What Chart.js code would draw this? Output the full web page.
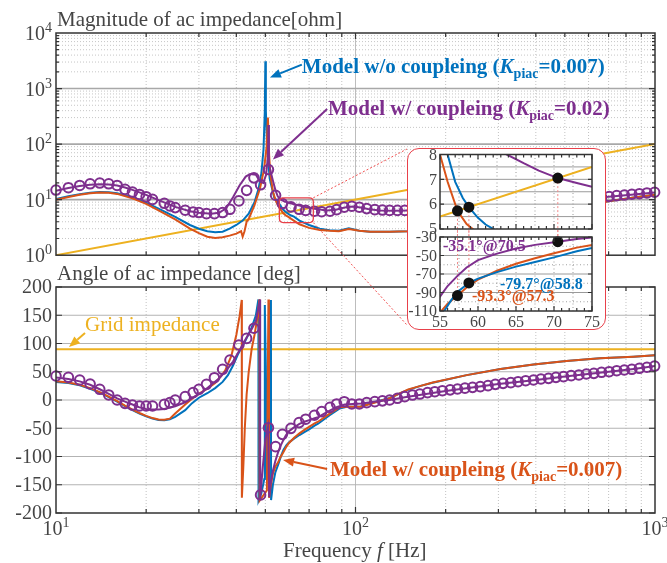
<!DOCTYPE html>
<html>
<head>
<meta charset="utf-8">
<title>ac impedance</title>
<script src="https://cdn.jsdelivr.net/npm/chart.js@4.4.1/dist/chart.umd.min.js"></script>
<style>
  html, body { margin: 0; padding: 0; background: #fff; }
  #wrap { position: relative; width: 667px; height: 563px; overflow: hidden; }
  canvas { position: absolute; }
  #mag { left: 0; top: 0; }
  #ang { left: 0; top: 262px; }
  #box { position: absolute; left: 407px; top: 148px; width: 199px; height: 182px; box-sizing: border-box;
         border: 1.5px solid #e8404a; border-radius: 12px; background: #fff; }
  #zmag { left: 409px; top: 148px; }
  #zang { left: 409px; top: 230px; }
</style>
</head>
<body>
<div id="wrap">
  <canvas id="mag" width="667" height="262"></canvas>
  <canvas id="ang" width="667" height="301"></canvas>
  <div id="box"></div>
  <canvas id="zmag" width="195" height="88"></canvas>
  <canvas id="zang" width="195" height="100"></canvas>
</div>
<script>
const SERIF = "'Liberation Serif', 'Times New Roman', serif";
const INK = "#454545";
const AXIS = "#333333";
const BLUE = "#0072BD", ORANGE = "#D95319", YELLOW = "#EDB120", PURPLE = "#7E2F8E";
const RED = "#e8404a";

// ---- values ----
// grid impedance (straight line on log-log)
const fGrid = [10, 55, 75, 1000];
const magGrid = [1, 5.5, 7.5, 100];
const angGrid = [90, 90, 90, 90];

// model w/o coupling, Kpiac = 0.007 (blue)
const fBlueMag = [10,11,12,13,14,15,16,18,20,22,25,28,30,32,34,36,38,40,42,44,46,47.5,48.5,49.3,49.8,50.0,50.2,50.7,51.7,53.5,55,56,57,58,58.8,60,61,62.3,65,70,76,82,88,95,103,112,130,150,200,300,400,500,600,700,850,1000];
const magBlue = [10.3,11.5,12.5,13.3,13.7,13.6,13.0,11.0,8.8,6.9,4.9,3.5,3.0,2.7,2.6,2.65,3.0,3.5,4.2,5.6,9,16,30,80,400,3100,400,83,24,11,9.2,8.0,6.9,6.25,5.88,5.45,5.18,4.95,4.2,3.5,3.0,2.8,2.75,3.05,2.75,2.65,2.65,2.7,3.1,4.3,5.7,7.0,8.2,9.4,10.9,12.3];
const fBlueAng = [10,11,12,13,14,15,16,17,18,19,20,21,22,23,24,25,27,28.4,30,32,34,36,37.5,39,40.6,42.8,45,46.5,47.4,47.45,48.5,49.6,49.8,50.2,50.6,51.9,52.2,52.25,53,54,55.4,56.5,57.5,58.8,60,62.5,65,67.5,70,73,75,82,88.6,93.5,104,114,130,141,150,165,181,235,305,393,506,655,847,1000];
const angBlue = [32,30,26,20,13,5,-3,-11,-18,-24,-29,-33,-35.5,-36,-34,-30,-18,-6,4,12,21,32,44,61,82,104,128,150,178,-178,-165,-140,168,60,-140,170,177,-177,-150,-128,-112,-98,-88,-79.7,-75,-68,-62,-57,-52,-45.5,-42,-27,-15,-12,-11.5,-5,3.5,12,18,25,30.5,44,55,63,69,73.7,76.7,79];

// model w/ coupling, Kpiac = 0.007 (orange)
const fOrangeMag = [10,11,12,13,14,15,16,18,20,22,25,28,30,32,34,36,38,40,41.5,42,42.6,43.3,44,46,48,49.5,50.5,51.0,51.5,52,53,54,55,56,57.3,58.5,59.5,61,65,70,76,82,88,95,103,112,130,150,200,300,400,500,600,700,850,1000];
const magOrange = [10.0,11.2,12.2,13.0,13.4,13.3,12.7,10.6,8.4,6.4,4.4,3.0,2.5,2.15,2.05,2.1,2.25,2.45,2.7,2.15,2.7,4.0,4.5,8,16,35,90,300,60,28,14,10,8.0,6.9,5.73,5.2,4.95,4.5,3.6,3.1,2.85,2.75,2.7,2.95,2.75,2.65,2.65,2.7,3.1,4.3,5.7,7.0,8.2,9.4,10.9,12.3];
const fOrangeAng = [10,11,12,13,14,15,16,17,18,19,20,21,22,23,24,25,27,28.4,30,32,34,35.5,36.7,38.5,40,41,41.7,41.75,42.2,42.7,43.3,44,45,46,47,47.8,47.85,50.6,51.2,51.4,51.45,52,53,54,55.2,56,57.3,58.8,60,62.5,65,67.5,70,73,75,82,88.6,93.5,104,114,130,141,150,165,181,235,305,393,506,655,847,1000];
const angOrange = [33,31,27,21,14,6,-2,-10,-17,-23,-28,-32,-34.5,-35,-33,-24,-8,2,11,20,30,42,52,78,115,148,177,-173,-120,-50,10,50,90,115,145,178,-178,-160,176,178,-173,-155,-130,-118,-110,-102,-93.3,-82.5,-76,-66.5,-59,-53,-47.5,-41.5,-38.5,-24,-13,-11.8,-11.8,-5.9,3,12,18.9,25,31,44,55,63,69,73.7,76.7,79];

// model w/ coupling, Kpiac = 0.02 (purple line)
const fPurpleMag = [10,11,12,13,14,15,16,17,18,19,20,22,25,28,30,33,35,37,39,41,43,44.5,46.5,48,49.2,50.3,51.0,51.2,51.4,52,53,54,55,56,58,60,62,63.8,66,68,70.5,73,75,80,86,92,98,104,110,120,135,150,250,400,550,700,850,1000];
const magPurple = [14.5,16.2,17.6,18.5,19,18.8,18,16.5,15,13.5,12.2,9.8,7.4,6.2,5.8,5.6,5.8,7,11,18,26,29,28,21,20,28,60,220,45,33,22,15,11.5,10.2,9.2,8.8,8.3,8.0,7.65,7.35,7.05,6.85,6.7,6.4,6.6,7.2,7.5,7.2,6.8,6.4,6.3,6.4,7.2,8.6,10.2,11.3,12.4,13.5];
const fPurpleAng = [10,11,12,13,14,15,16,17,18,19,20,21,22,23,25,27,29,31,33,35,37,39,41,43,45,46.5,47.5,48.0,48.05,49,50,51.1,51.5,52,53,54,55,56,57.3,58.5,60,62.5,65,67.5,70.5,73,75,80,86,92,98,105,115,130,146,200,300,400,500,700,850,1000];
const angPurple = [40,37,33,27,19,11,3,-3,-8,-13,-16,-17,-17,-16,-11,-4,6,15,27,38,52,68,88,108,125,140,165,178,-175,-120,-70,-47,-172,-150,-125,-108,-94.4,-83,-72,-63,-55,-48,-42.4,-38.5,-35.1,-32.2,-30.5,-22,-13,-8,-7,-6,-3,0,5,16,28.5,35.5,41.5,50,55,60];

// purple circles
const fMeas = [10,11,12,13,14,15,16,17,18,19,20,21,23,24,25,27,28.7,30,31.8,33.8,36,38.1,40.8,43.3,45.8,48.2,51.2,54.1,57,60.9,64.8,68.2,72.9,77.1,82.2,86.5,91.7,97.2,103,109,116,123,130,138,146,155,164,174,184,195,207,219,232,246,261,277,293,311,330,349,370,393,416,441,467,495,525,557,590,625,663,703,745,790,837,887,940,997];
const magMeas = [14.9,16.4,18.0,19.3,19.9,19.3,18.0,15.3,13.7,12.4,11.3,10.1,8.6,7.7,7.2,6.45,6.0,5.86,5.6,5.6,5.86,6.7,9.5,14.7,24.7,18.5,34.8,12.0,8.5,7.4,6.7,6.4,6.2,6.05,6.2,6.6,7.3,7.6,7.3,6.9,6.6,6.5,6.4,6.4,6.4,6.5,6.6,6.7,6.8,6.9,7.0,7.1,7.2,7.3,7.4,7.5,7.7,7.8,8.0,8.2,8.4,8.6,8.8,9.0,9.3,9.6,9.9,10.2,10.5,10.8,11.1,11.4,11.8,12.1,12.5,12.8,13.2,13.6];
const angMeas = [42.5,40.2,35.4,28.3,18.9,8.9,0,-5.9,-8.9,-10.6,-10.6,-10.6,-7.7,-4.7,0,5.9,13,18.9,27.7,39.5,54.3,70.8,97.4,109,127,-168,-49,-82.6,-60.8,-50.2,-40,-34,-27,-20.6,-13,-7,-3,-7,-7,-4.7,-2.9,-1.5,0,3,5.9,8.8,10.5,13,14.7,16.5,18,19.5,21,22.4,23.6,25.4,27.7,29.5,30.7,32.4,34.2,35.4,37.2,38.3,40.1,41.3,43.1,44.3,46,47.2,49,50.1,51.9,53.1,54.3,56.1,58,60];

// marked crossings in the zoom
const markF = [57.3, 58.8, 70.5];
const markMag = [5.73, 5.88, 7.05];
const markAng = [-93.3, -79.7, -35.1];

// tick values
const magTicks = [1, 10, 100, 1000, 10000];
const magExp = ["0", "1", "2", "3", "4"];
const angTicks = [-200, -150, -100, -50, 0, 50, 100, 150, 200];
const freqTicks = [10, 100, 1000];
const freqExp = ["1", "2", "3"];
const zoomFreqTicks = [55, 60, 65, 70, 75];
const zoomMagTicks = [5, 6, 7, 8];
const zoomAngTicks = [-30, -50, -70, -90, -110];

// ---- helpers ----
const pts = (xs, ys) => xs.map((x, i) => ({ x, y: ys[i] }));
const lineSet = (xs, ys, color, order) => ({
  data: pts(xs, ys), borderColor: color, borderWidth: 2, pointRadius: 0,
  fill: false, tension: 0, order
});
const markerSet = (xs, ys, color, order, r = 4.8) => ({
  data: pts(xs, ys), showLine: false, borderColor: color, pointBorderColor: color,
  pointBackgroundColor: color === PURPLE ? "rgba(0,0,0,0)" : color,
  pointRadius: r, pointBorderWidth: 2, order, clip: 10
});
const decMinors = (decades) => { const out = []; decades.forEach(d => { for (let k = 2; k <= 9; k++) out.push(k * d); }); return out; };
const xMinor = decMinors([10, 100]);
const yMinor = decMinors([1, 10, 100, 1000]);

function richText(ctx, x, y, color, parts) {
  ctx.fillStyle = color; ctx.textAlign = "left"; ctx.textBaseline = "alphabetic";
  for (const [t, font, dy] of parts) { ctx.font = font; ctx.fillText(t, x, y + (dy || 0)); x += ctx.measureText(t).width; }
}
const B21 = `bold 21px ${SERIF}`;
const modelLabel = (pre, k) => [[pre + " (", B21], ["K", `italic bold 21px ${SERIF}`], ["piac", `bold 14px ${SERIF}`, 5], ["=" + k + ")", B21]];

function arrow(ctx, x0, y0, x1, y1, color) {
  const a = Math.atan2(y1 - y0, x1 - x0), h = 11, w = 4.5;
  const bx = x1 - h * Math.cos(a), by = y1 - h * Math.sin(a);
  ctx.strokeStyle = color; ctx.fillStyle = color; ctx.lineWidth = 2; ctx.setLineDash([]);
  ctx.beginPath(); ctx.moveTo(x0, y0); ctx.lineTo(bx, by); ctx.stroke();
  ctx.beginPath(); ctx.moveTo(x1, y1);
  ctx.lineTo(bx + w * Math.sin(a), by - w * Math.cos(a));
  ctx.lineTo(bx - w * Math.sin(a), by + w * Math.cos(a));
  ctx.closePath(); ctx.fill();
}

function pow10(ctx, x, y, exp, align) {
  ctx.font = `20px ${SERIF}`; const w1 = ctx.measureText("10").width;
  ctx.font = `14px ${SERIF}`; const w2 = ctx.measureText(exp).width;
  const x0 = align === "right" ? x - w1 - w2 : x - (w1 + w2) / 2;
  ctx.fillStyle = INK; ctx.textAlign = "left"; ctx.textBaseline = "alphabetic";
  ctx.font = `20px ${SERIF}`; ctx.fillText("10", x0, y);
  ctx.font = `14px ${SERIF}`; ctx.fillText(exp, x0 + w1, y - 8);
}

function dotted(ctx, x0, y0, x1, y1, color) {
  ctx.strokeStyle = color; ctx.lineWidth = 1; ctx.setLineDash([2, 2]);
  ctx.beginPath(); ctx.moveTo(x0, y0); ctx.lineTo(x1, y1); ctx.stroke(); ctx.setLineDash([]);
}

function roundBox(ctx, x, y, w, h, r) {
  ctx.beginPath();
  ctx.moveTo(x + r, y); ctx.lineTo(x + w - r, y); ctx.quadraticCurveTo(x + w, y, x + w, y + r);
  ctx.lineTo(x + w, y + h - r); ctx.quadraticCurveTo(x + w, y + h, x + w - r, y + h);
  ctx.lineTo(x + r, y + h); ctx.quadraticCurveTo(x, y + h, x, y + h - r);
  ctx.lineTo(x, y + r); ctx.quadraticCurveTo(x, y, x + r, y); ctx.closePath();
}

// grid under the data, box + inward ticks + annotations above it
function frame(spec) {
  return {
    id: "frame",
    beforeDatasetsDraw(chart) {
      const { ctx, chartArea: a } = chart, sx = chart.scales.x, sy = chart.scales.y;
      ctx.save();
      (spec.grid || []).forEach(g => {
        ctx.strokeStyle = g.color; ctx.lineWidth = g.width || 1; ctx.setLineDash(g.dash || []);
        g.values.forEach(v => {
          ctx.beginPath();
          if (g.axis === "x") { const p = sx.getPixelForValue(v); ctx.moveTo(p, a.top); ctx.lineTo(p, a.bottom); }
          else { const p = sy.getPixelForValue(v); ctx.moveTo(a.left, p); ctx.lineTo(a.right, p); }
          ctx.stroke();
        });
      });
      ctx.setLineDash([]);
      if (spec.under) spec.under(chart, ctx, sx, sy, a);
      ctx.restore();
    },
    afterDatasetsDraw(chart) {
      const { ctx, chartArea: a } = chart, sx = chart.scales.x, sy = chart.scales.y;
      ctx.save();
      ctx.strokeStyle = AXIS; ctx.lineWidth = 1.2; ctx.setLineDash([]);
      (spec.ticks || []).forEach(t => {
        t.values.forEach(v => {
          ctx.beginPath();
          if (t.axis === "x") {
            const p = sx.getPixelForValue(v);
            ctx.moveTo(p, a.bottom); ctx.lineTo(p, a.bottom - t.len);
            ctx.moveTo(p, a.top); ctx.lineTo(p, a.top + t.len);
          } else {
            const p = sy.getPixelForValue(v);
            ctx.moveTo(a.left, p); ctx.lineTo(a.left + t.len, p);
            ctx.moveTo(a.right, p); ctx.lineTo(a.right - t.len, p);
          }
          ctx.stroke();
        });
      });
      ctx.lineWidth = 1.5;
      ctx.strokeRect(a.left, a.top, a.right - a.left, a.bottom - a.top);
      if (spec.extra) spec.extra(chart, ctx, sx, sy, a);
      ctx.restore();
    }
  };
}

const common = (padding) => ({
  responsive: false, animation: false, events: [],
  layout: { padding },
  plugins: { legend: { display: false }, tooltip: { enabled: false } }
});

const xGrid = [
  { axis: "x", values: xMinor, color: "#c2c2c2", dash: [1, 2] },
  { axis: "x", values: [100], color: "#bdbdbd", width: 1 }
];
const xTickMarks = [{ axis: "x", values: xMinor, len: 4 }, { axis: "x", values: [100], len: 6 }];

// page position of the zoom box (left edge) used by the connector lines
const BOX_LEFT = 407, BOX_TOP = 149, BOX_BOTTOM = 325, ANG_TOP = 262;
let zoomCorner = null;

// ---- magnitude ----
new Chart(document.getElementById("mag"), {
  type: "line",
  data: { datasets: [
    lineSet(fGrid, magGrid, YELLOW, 5),
    lineSet(fBlueMag, magBlue, BLUE, 4),
    lineSet(fOrangeMag, magOrange, ORANGE, 3),
    lineSet(fPurpleMag, magPurple, PURPLE, 2),
    markerSet(fMeas, magMeas, PURPLE, 1)
  ]},
  options: {
    ...common({ left: 56, right: 12, top: 33, bottom: 4 }),
    scales: {
      x: { type: "logarithmic", min: 10, max: 1000, display: false },
      y: { type: "logarithmic", min: 1, max: 10000, display: false }
    }
  },
  plugins: [frame({
    grid: [
      ...xGrid,
      { axis: "y", values: yMinor, color: "#c6c6c6", dash: [1, 2] },
      { axis: "y", values: [10, 100, 1000], color: "#a8a8a8", width: 1.6 }
    ],
    ticks: [...xTickMarks, { axis: "y", values: yMinor, len: 3 }, { axis: "y", values: [10, 100, 1000], len: 6 }],
    extra(chart, ctx, sx, sy) {
      ctx.fillStyle = INK; ctx.font = `21px ${SERIF}`; ctx.textAlign = "left"; ctx.textBaseline = "alphabetic";
      ctx.fillText("Magnitude of ac impedance[ohm]", 57, 26);
      magTicks.forEach((v, i) => pow10(ctx, 52, sy.getPixelForValue(v) + 7, magExp[i], "right"));

      // small zoom rectangle + connectors
      const rx0 = sx.getPixelForValue(55.7), rx1 = sx.getPixelForValue(72.3);
      const ry0 = sy.getPixelForValue(10.8), ry1 = sy.getPixelForValue(3.86);
      ctx.strokeStyle = RED; ctx.lineWidth = 1.3;
      roundBox(ctx, rx0, ry0, rx1 - rx0, ry1 - ry0, 4); ctx.stroke();
      zoomCorner = { x: rx1, top: ry0, bottom: ry1 };
      dotted(ctx, rx1, ry0, BOX_LEFT, BOX_TOP, "#f05050");
      dotted(ctx, rx1, ry1, BOX_LEFT, BOX_BOTTOM, "#f05050");

      // annotations
      richText(ctx, sx.getPixelForValue(66.2), sy.getPixelForValue(1945), BLUE, modelLabel("Model w/o coupleing", "0.007"));
      arrow(ctx, sx.getPixelForValue(66.2), sy.getPixelForValue(2700), sx.getPixelForValue(51.8), sy.getPixelForValue(1585), BLUE);
      richText(ctx, sx.getPixelForValue(80.9), sy.getPixelForValue(334), PURPLE, modelLabel("Model w/ coupleing", "0.02"));
      arrow(ctx, sx.getPixelForValue(80.4), sy.getPixelForValue(428), sx.getPixelForValue(53.0), sy.getPixelForValue(53), PURPLE);
    }
  })]
});

// ---- angle ----
new Chart(document.getElementById("ang"), {
  type: "line",
  data: { datasets: [
    lineSet(fGrid, angGrid, YELLOW, 5),
    lineSet(fBlueAng, angBlue, BLUE, 4),
    lineSet(fOrangeAng, angOrange, ORANGE, 3),
    lineSet(fPurpleAng, angPurple, PURPLE, 2),
    markerSet(fMeas, angMeas, PURPLE, 1)
  ]},
  options: {
    ...common({ left: 56, right: 12, top: 25, bottom: 50 }),
    scales: {
      x: { type: "logarithmic", min: 10, max: 1000, display: false },
      y: { type: "linear", min: -200, max: 200, display: false }
    }
  },
  plugins: [frame({
    grid: [
      ...xGrid,
      { axis: "y", values: [-150, -100, -50, 0, 50, 100, 150], color: "#b3b3b3", width: 1.2 }
    ],
    ticks: [...xTickMarks, { axis: "y", values: angTicks, len: 6 }],
    extra(chart, ctx, sx, sy, a) {
      ctx.fillStyle = INK; ctx.font = `21px ${SERIF}`; ctx.textAlign = "left"; ctx.textBaseline = "alphabetic";
      ctx.fillText("Angle of ac impedance [deg]", 57, 18);
      ctx.font = `20px ${SERIF}`; ctx.textAlign = "right"; ctx.textBaseline = "middle";
      angTicks.forEach(v => ctx.fillText(String(v), 52, sy.getPixelForValue(v) + 1));
      freqTicks.forEach((v, i) => pow10(ctx, sx.getPixelForValue(v), 273, freqExp[i], "center"));
      richText(ctx, 283, 295, INK, [["Frequency ", `21px ${SERIF}`], ["f", `italic 21px ${SERIF}`], [" [Hz]", `21px ${SERIF}`]]);

      if (zoomCorner) dotted(ctx, zoomCorner.x, zoomCorner.bottom - ANG_TOP, BOX_LEFT, BOX_BOTTOM - ANG_TOP, "#f05050");

      ctx.fillStyle = YELLOW; ctx.font = `21px ${SERIF}`; ctx.textAlign = "left"; ctx.textBaseline = "alphabetic";
      ctx.fillText("Grid impedance", sx.getPixelForValue(12.5), sy.getPixelForValue(122));
      arrow(ctx, sx.getPixelForValue(12.5), sy.getPixelForValue(118.6), sx.getPixelForValue(11.05), sy.getPixelForValue(93.8), YELLOW);

      richText(ctx, sx.getPixelForValue(82.2), sy.getPixelForValue(-134.5), ORANGE, modelLabel("Model w/ coupleing", "0.007"));
      arrow(ctx, sx.getPixelForValue(80.4), sy.getPixelForValue(-122), sx.getPixelForValue(57.3), sy.getPixelForValue(-106), ORANGE);
    }
  })]
});

// ---- zoom: magnitude ----
const zoomX = { type: "linear", min: 55, max: 75, display: false };
const zoomXGrid = { axis: "x", values: [57.5, 60, 62.5, 65, 67.5, 70, 72.5], color: "#9a9a9a", dash: [1, 2.5] };
const zoomXTicks = [{ axis: "x", values: [56,57,58,59,61,62,63,64,66,67,68,69,71,72,73,74], len: 3 }, { axis: "x", values: zoomFreqTicks, len: 5 }];

new Chart(document.getElementById("zmag"), {
  type: "line",
  data: { datasets: [
    markerSet(markF, markMag, "#111111", 0, 4.5),
    lineSet(fGrid, magGrid, YELLOW, 5),
    lineSet(fBlueMag, magBlue, BLUE, 3),
    lineSet(fOrangeMag, magOrange, ORANGE, 4),
    lineSet(fPurpleMag, magPurple, PURPLE, 2)
  ]},
  options: {
    ...common({ left: 31, right: 12, top: 6, bottom: 7 }),
    scales: { x: zoomX, y: { type: "linear", min: 5, max: 8, display: false } }
  },
  plugins: [frame({
    grid: [zoomXGrid, { axis: "y", values: [5.5, 6, 6.5, 7, 7.5], color: "#9a9a9a", width: 1 }],
    ticks: [...zoomXTicks, { axis: "y", values: zoomMagTicks, len: 4 }],
    under(chart, ctx, sx, sy) {
      markF.forEach((f, i) => dotted(ctx, sx.getPixelForValue(f), sy.getPixelForValue(markMag[i]), sx.getPixelForValue(f), chart.height, "#f28a8a"));
    },
    extra(chart, ctx, sx, sy) {
      ctx.fillStyle = INK; ctx.font = `16px ${SERIF}`; ctx.textAlign = "right"; ctx.textBaseline = "middle";
      zoomMagTicks.forEach(v => ctx.fillText(String(v), 28, sy.getPixelForValue(v) + 1));
    }
  })]
});

// ---- zoom: angle ----
new Chart(document.getElementById("zang"), {
  type: "line",
  data: { datasets: [
    markerSet(markF, markAng, "#111111", 0, 4.5),
    lineSet(fBlueAng, angBlue, BLUE, 3),
    lineSet(fOrangeAng, angOrange, ORANGE, 4),
    lineSet(fPurpleAng, angPurple, PURPLE, 2)
  ]},
  options: {
    ...common({ left: 31, right: 12, top: 7, bottom: 19 }),
    scales: { x: zoomX, y: { type: "linear", min: -110, max: -30, display: false } }
  },
  plugins: [frame({
    grid: [
      zoomXGrid,
      { axis: "y", values: [-40, -60, -80, -100], color: "#a0a0a0", dash: [1, 2.5] },
      { axis: "y", values: [-50, -70, -90], color: "#9a9a9a", width: 1 }
    ],
    ticks: [...zoomXTicks, { axis: "y", values: zoomAngTicks, len: 4 }],
    under(chart, ctx, sx, sy) {
      markF.forEach((f, i) => dotted(ctx, sx.getPixelForValue(f), 0, sx.getPixelForValue(f), sy.getPixelForValue(markAng[i]), "#f28a8a"));
    },
    extra(chart, ctx, sx, sy) {
      ctx.fillStyle = INK; ctx.font = `16px ${SERIF}`; ctx.textAlign = "right"; ctx.textBaseline = "middle";
      zoomAngTicks.forEach(v => ctx.fillText(String(v), 28, sy.getPixelForValue(v) + 1));
      ctx.textAlign = "center"; ctx.textBaseline = "alphabetic";
      zoomFreqTicks.forEach(v => ctx.fillText(String(v), sx.getPixelForValue(v), 97));
      const B16 = `bold 16px ${SERIF}`;
      richText(ctx, sx.getPixelForValue(55.4), sy.getPixelForValue(-45.1), PURPLE, [["-35.1°@70.5", B16]]);
      richText(ctx, sx.getPixelForValue(62.9), sy.getPixelForValue(-86.2), BLUE, [["-79.7°@58.8", B16]]);
      richText(ctx, sx.getPixelForValue(59.2), sy.getPixelForValue(-99.2), ORANGE, [["-93.3°@57.3", B16]]);
    }
  })]
});
</script>
</body>
</html>
